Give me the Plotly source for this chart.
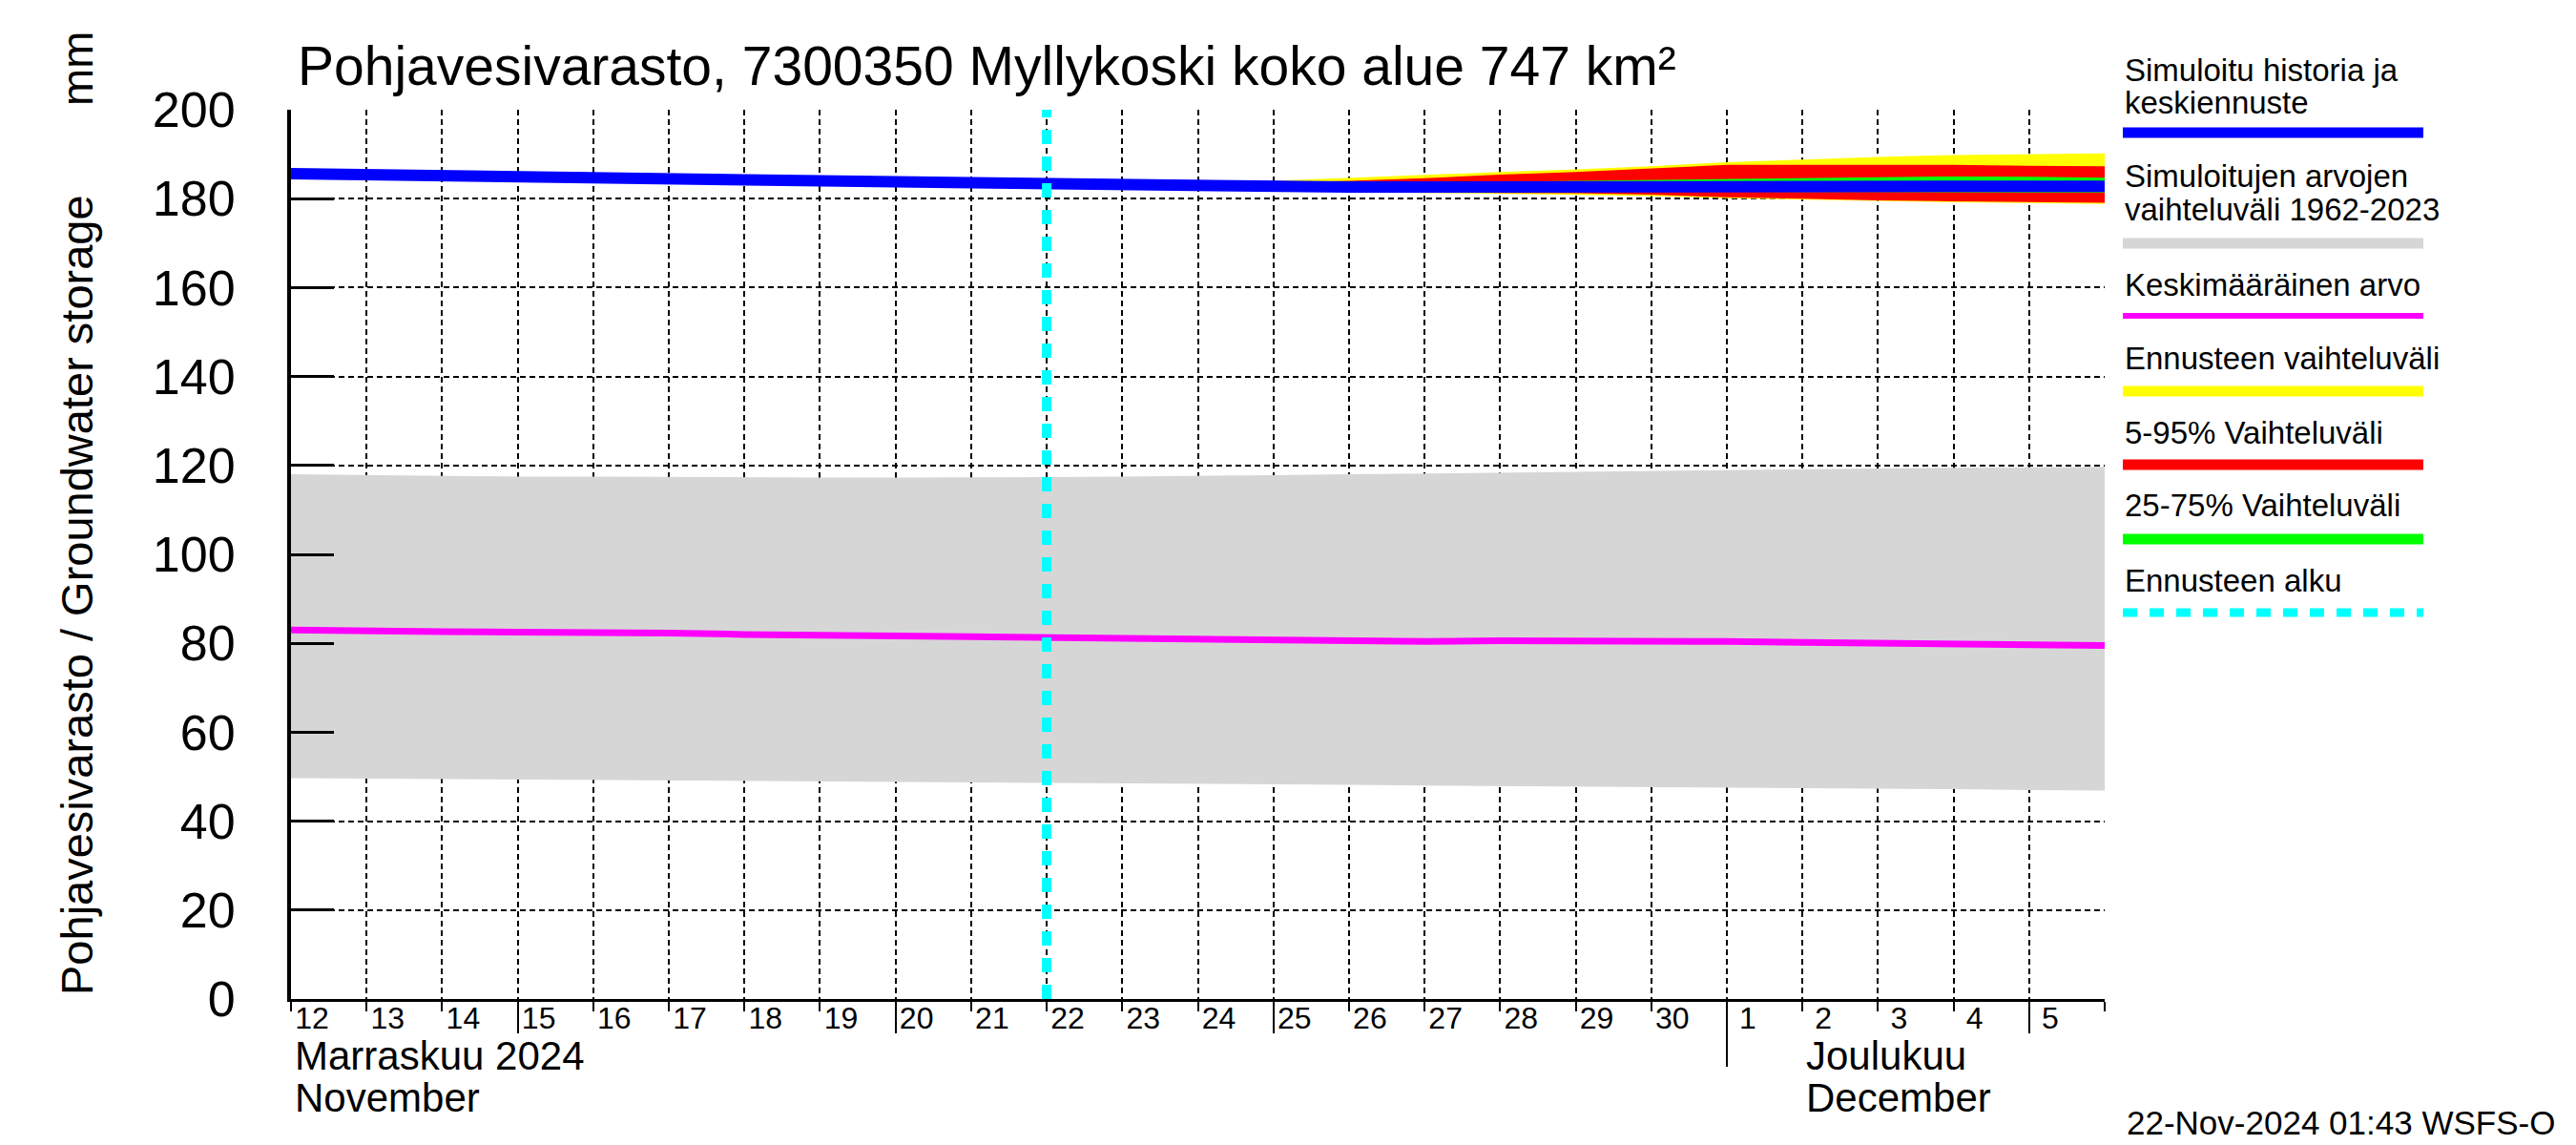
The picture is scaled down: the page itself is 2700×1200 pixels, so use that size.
import plotly.graph_objects as go
import pandas as pd

# ---------------- data ----------------
dates = pd.date_range("2024-11-12", "2024-12-06", freq="D")
fc_dates = pd.date_range("2024-11-22", "2024-12-06", freq="D")
forecast_start = ["2024-11-22", "2024-11-22"]
forecast_line_y = [0, 200]

day_labels = [str(d.day) for d in dates[:-1]] + [""]
long_tick_dates = ["2024-11-15", "2024-11-20", "2024-11-25", "2024-12-05"]
month_tick_dates = ["2024-12-01"]

range_top = [118.0, 117.8, 117.6, 117.5, 117.5, 117.4, 117.4, 117.3, 117.3, 117.3,
             117.4, 117.5, 117.6, 117.8, 118.0, 118.2, 118.4, 118.6, 118.8, 119.0,
             119.2, 119.4, 119.5, 119.6, 119.7]
range_bottom = [49.7, 49.6, 49.4, 49.3, 49.2, 49.1, 49.0, 48.9, 48.8, 48.7,
                48.6, 48.5, 48.4, 48.3, 48.2, 48.0, 47.9, 47.8, 47.7, 47.6,
                47.4, 47.3, 47.2, 47.0, 46.9]
mean_value = [83.0, 82.7, 82.6, 82.5, 82.5, 82.3, 82.0, 81.8, 81.7, 81.5,
              81.3, 81.0, 80.7, 80.5, 80.3, 80.4, 80.6, 80.6, 80.5, 80.4,
              80.2, 80.0, 79.8, 79.6, 79.5]
simulated = [185.6, 185.3, 185.0, 184.8, 184.6, 184.4, 184.2, 184.0, 183.8, 183.6,
             183.3, 183.0, 182.8, 182.7, 182.6, 182.6, 182.7, 182.7, 182.8, 182.8,
             182.8, 182.8, 182.8, 182.8, 182.8]

yellow_hi = [183.3, 183.4, 183.6, 184.0, 184.7, 185.4, 186.0, 186.6, 187.3, 188.2,
             188.8, 189.4, 189.8, 190.0, 190.2]
yellow_lo = [183.3, 182.5, 182.1, 181.8, 181.5, 181.3, 181.1, 180.9, 180.6, 180.1,
             179.8, 179.4, 179.2, 179.0, 178.8]
red_hi = [183.3, 183.3, 183.4, 183.6, 184.0, 184.6, 185.4, 186.0, 186.8, 187.6,
          187.6, 187.6, 187.6, 187.4, 187.3]
red_lo = [183.3, 182.6, 182.2, 181.9, 181.6, 181.4, 181.3, 181.2, 180.9, 180.3,
          180.0, 179.6, 179.4, 179.2, 179.1]
green_hi = [183.3, 183.2, 183.2, 183.3, 183.4, 183.6, 183.8, 184.0, 184.2, 184.4,
            184.5, 184.7, 185.0, 184.9, 184.7]
green_lo = [183.3, 182.8, 182.5, 182.2, 182.0, 181.9, 181.8, 181.7, 181.6, 181.6,
            181.5, 181.5, 181.4, 181.4, 181.4]

y_ticks = list(range(0, 201, 20))

title_text = "Pohjavesivarasto, 7300350 Myllykoski koko alue 747 km²"
legend_items = [
    (["Simuloitu historia ja", "keskiennuste"], "#0000ff", 11, "solid"),
    (["Simuloitujen arvojen", "vaihteluväli 1962-2023"], "#d6d6d6", 11, "solid"),
    (["Keskimääräinen arvo"], "#ff00ff", 6, "solid"),
    (["Ennusteen vaihteluväli"], "#ffff00", 11, "solid"),
    (["5-95% Vaihteluväli"], "#ff0000", 11, "solid"),
    (["25-75% Vaihteluväli"], "#00ff00", 11, "solid"),
    (["Ennusteen alku"], "#00ffff", 9, "dash"),
]

# ---------------- layout geometry (pixels) ----------------
W, H = 2700, 1200
L, R, T, B = 305, 2206, 115, 1047
PW, PH = R - L, B - T


def px(xp):
    return (xp - L) / PW


def py(yp):
    return (B - yp) / PH


FONT = "Liberation Sans, Arial, Helvetica, sans-serif"

fig = go.Figure()

# gray historic range
fig.add_trace(go.Scatter(x=dates, y=range_bottom, mode="lines", line=dict(width=0),
                         showlegend=False, hoverinfo="skip"))
fig.add_trace(go.Scatter(x=dates, y=range_top, mode="lines", line=dict(width=0),
                         fill="tonexty", fillcolor="#d6d6d6", showlegend=False))
# mean
fig.add_trace(go.Scatter(x=dates, y=mean_value, mode="lines",
                         line=dict(color="#ff00ff", width=7), showlegend=False))
# forecast bands
for lo, hi, col in [(yellow_lo, yellow_hi, "#ffff00"),
                    (red_lo, red_hi, "#ff0000"),
                    (green_lo, green_hi, "#00ff00")]:
    fig.add_trace(go.Scatter(x=fc_dates, y=lo, mode="lines", line=dict(width=0, color=col),
                             showlegend=False, hoverinfo="skip"))
    fig.add_trace(go.Scatter(x=fc_dates, y=hi, mode="lines", line=dict(width=0, color=col),
                             fill="tonexty", fillcolor=col, showlegend=False))
# simulated + median forecast
fig.add_trace(go.Scatter(x=dates, y=simulated, mode="lines",
                         line=dict(color="#0000ff", width=12), showlegend=False))
# forecast start
fig.add_trace(go.Scatter(x=forecast_start, y=forecast_line_y, mode="lines",
                         line=dict(color="#00ffff", width=10, dash="15px,13px"),
                         showlegend=False))
# dummy traces for the extra tick axes
fig.add_trace(go.Scatter(x=dates[:1], y=[None], xaxis="x2", mode="lines",
                         showlegend=False, hoverinfo="skip"))
fig.add_trace(go.Scatter(x=dates[:1], y=[None], xaxis="x3", mode="lines",
                         showlegend=False, hoverinfo="skip"))

xrange = [dates[0], dates[-1]]
fig.update_layout(
    width=W, height=H, autosize=False,
    margin=dict(l=L, r=W - R, t=T, b=H - B, pad=0),
    plot_bgcolor="white", paper_bgcolor="white",
    font=dict(family=FONT, color="black"),
    showlegend=False,
    xaxis=dict(
        type="date", range=xrange, tickmode="array", tickvals=dates, ticktext=day_labels,
        ticks="outside", ticklen=10, tickwidth=1.5, tickcolor="black",
        ticklabelshift=22, ticklabelstandoff=-20, tickfont=dict(size=32, family=FONT),
        showgrid=True, gridcolor="black", gridwidth=1.5, griddash="6px,4px",
        showline=True, linecolor="black", linewidth=3, zeroline=False,
        layer="above traces",
    ),
    xaxis2=dict(
        type="date", range=xrange, overlaying="x", anchor="y", side="bottom",
        tickmode="array", tickvals=long_tick_dates, ticks="outside", ticklen=35,
        tickwidth=1.5, tickcolor="black", showticklabels=False, showgrid=False,
        showline=False, zeroline=False, layer="above traces",
    ),
    xaxis3=dict(
        type="date", range=xrange, overlaying="x", anchor="y", side="bottom",
        tickmode="array", tickvals=month_tick_dates, ticks="outside", ticklen=70,
        tickwidth=1.5, tickcolor="black", showticklabels=False, showgrid=False,
        showline=False, zeroline=False, layer="above traces",
    ),
    yaxis=dict(
        range=[0, 200], tickmode="array", tickvals=y_ticks,
        ticks="inside", ticklen=45, tickwidth=2.5, tickcolor="black",
        ticklabelstandoff=44, tickfont=dict(size=52, family=FONT),
        showgrid=True, gridcolor="black", gridwidth=1.5, griddash="6px,4px",
        showline=True, linecolor="black", linewidth=4, zeroline=False,
        layer="above traces",
    ),
)

ann = []
ann.append(dict(text=title_text, xref="paper", yref="paper", x=px(310), y=py(69),
                xanchor="left", yanchor="middle", showarrow=False,
                font=dict(size=57, family=FONT)))
ann.append(dict(text="Pohjavesivarasto / Groundwater storage", xref="paper", yref="paper",
                x=px(80), y=py(624), xanchor="center", yanchor="middle", textangle=-90,
                showarrow=False, font=dict(size=47, family=FONT)))
ann.append(dict(text="mm", xref="paper", yref="paper", x=px(80), y=py(72),
                xanchor="center", yanchor="middle", textangle=-90,
                showarrow=False, font=dict(size=47, family=FONT)))
for txt, xd, yp in [("Marraskuu 2024", "2024-11-12", 1106), ("November", "2024-11-12", 1150),
                    ("Joulukuu", "2024-12-02", 1106), ("December", "2024-12-02", 1150)]:
    ann.append(dict(text=txt, xref="x", yref="paper", x=xd, y=py(yp), xanchor="left",
                    yanchor="middle", xshift=2, showarrow=False,
                    font=dict(size=42, family=FONT)))
ann.append(dict(text="22-Nov-2024 01:43 WSFS-O", xref="paper", yref="paper",
                x=px(2680), y=py(1176), xanchor="right", yanchor="middle",
                showarrow=False, font=dict(size=35, family=FONT)))

# legend
text_y = [[74, 107], [184, 219], [298], [375], [453], [529], [608]]
line_y = [139, 255, 331, 410, 487, 565, 642]
shapes = []
for (lines, col, w, dash), tys, ly in zip(legend_items, text_y, line_y):
    for txt, ty in zip(lines, tys):
        ann.append(dict(text=txt, xref="paper", yref="paper", x=px(2225), y=py(ty),
                        xanchor="left", yanchor="middle", align="left", showarrow=False,
                        font=dict(size=33, family=FONT)))
    shapes.append(dict(type="line", xref="paper", yref="paper", x0=px(2225), x1=px(2540),
                       y0=py(ly), y1=py(ly),
                       line=dict(color=col, width=w, dash="15px,13px" if dash == "dash" else "solid")))

fig.update_layout(annotations=ann, shapes=shapes)

fig.write_html("out.html", config={"displayModeBar": False},
               post_script="document.body.style.margin='0px';")
